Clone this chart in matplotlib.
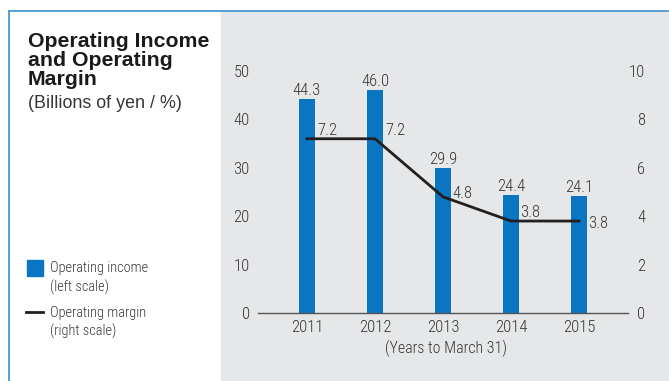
import matplotlib
matplotlib.use('Agg')
import matplotlib.pyplot as plt
from matplotlib import font_manager
from matplotlib.patches import Rectangle
from matplotlib.lines import Line2D

years = ['2011', '2012', '2013', '2014', '2015']
operating_income = [44.3, 46.0, 29.9, 24.4, 24.1]
operating_margin = [7.2, 7.2, 4.8, 3.8, 3.8]
left_ticks = [0, 10, 20, 30, 40, 50]
right_ticks = [0, 2, 4, 6, 8, 10]

W, H = 669, 381
BLUE = '#0a76c2'
TXT = '#363636'

names = sorted({f.name for f in font_manager.fontManager.ttflist})
narrow = 'Liberation Sans'
for cand in ['Roboto Condensed', 'Liberation Sans Narrow', 'DejaVu Sans Condensed']:
    if cand in names:
        narrow = cand
        break
plt.rcParams['font.family'] = ['Liberation Sans', 'DejaVu Sans']
NUM = dict(family=narrow, weight=300)


def fx(x):
    return x / W


def fy(y):
    return 1 - y / H


fig = plt.figure(figsize=(W / 100, H / 100), dpi=100)
fig.patch.set_facecolor('white')

# background panels and blue frame
fig.patches.append(Rectangle((fx(221), 0), fx(668) - fx(221), fy(12),
                             transform=fig.transFigure, color='#e6e7e8', zorder=-5))
fig.lines.append(Line2D([fx(9), fx(668)], [fy(11), fy(11)], transform=fig.transFigure,
                        color='#4a98d6', lw=1.3))
fig.lines.append(Line2D([fx(9), fx(9)], [fy(11), 0], transform=fig.transFigure,
                        color='#4a98d6', lw=1.3))

ax = fig.add_axes([fx(258), fy(313), fx(628) - fx(258), fy(71) - fy(313)])
ax.set_facecolor('none')
x = list(range(len(years)))
ax.bar(x, operating_income, width=0.235, color=BLUE, zorder=2)
ax.set_xlim(-0.72, 4.72)
ax.set_ylim(0, 50)
ax.set_yticks(left_ticks)
ax.set_xticks(x)
ax.set_xticklabels(years)
for s in ['top', 'right', 'left']:
    ax.spines[s].set_visible(False)
ax.spines['bottom'].set_color('#555555')
ax.spines['bottom'].set_linewidth(1.0)
ax.tick_params(axis='both', length=0, colors=TXT, labelsize=12)
ax.tick_params(axis='y', pad=6)
ax.tick_params(axis='x', pad=5)
for lab in ax.get_xticklabels() + ax.get_yticklabels():
    lab.set_family(narrow)
    lab.set_fontweight(300)

for xi, v in zip(x, operating_income):
    ax.annotate(f'{v:.1f}', (xi, v), xytext=(0, 4), textcoords='offset pixels',
                ha='center', va='baseline', fontsize=12, color=TXT, **NUM)

ax2 = ax.twinx()
ax2.set_ylim(0, 10)
ax2.set_yticks(right_ticks)
for s in ['top', 'right', 'left', 'bottom']:
    ax2.spines[s].set_visible(False)
ax2.tick_params(axis='y', length=0, colors=TXT, labelsize=12, pad=12.5)
for lab in ax2.get_yticklabels():
    lab.set_family(narrow)
    lab.set_fontweight(300)
    lab.set_horizontalalignment('right')
ax2.plot(x, operating_margin, color='#231f20', lw=2.0, zorder=3)

label_offsets = [(10, 10), (10, 10), (9, 5), (9, 10), (9, -1)]
for xi, v, (dx, dy) in zip(x, operating_margin, label_offsets):
    ax2.annotate(f'{v:.1f}', (xi, v), xytext=(dx, dy), textcoords='offset pixels',
                 ha='left', va='center_baseline', fontsize=12, color=TXT, **NUM)

fig.text(fx(446), fy(353), '(Years to March 31)', ha='center', va='baseline',
         fontsize=11.4, color=TXT, **NUM)

# title block
for txt, yb in [('Operating Income', 47), ('and Operating', 66), ('Margin', 85)]:
    fig.text(fx(28), fy(yb), txt, fontsize=15.3, fontweight='bold', color='#1a1a1a',
             ha='left', va='baseline')
fig.text(fx(28), fy(108), '(Billions of yen / %)', fontsize=12.9, color=TXT,
         ha='left', va='baseline')

# legend
fig.patches.append(Rectangle((fx(27), fy(276)), fx(16), fy(260) - fy(276),
                             transform=fig.transFigure, color=BLUE))
fig.lines.append(Line2D([fx(26), fx(43)], [fy(312), fy(312)], transform=fig.transFigure,
                        color='#231f20', lw=2.0))
for txt, yc in [('Operating income', 268), ('(left scale)', 287),
                ('Operating margin', 313), ('(right scale)', 331)]:
    fig.text(fx(50), fy(yc), txt, fontsize=10.4, color=TXT, ha='left', va='center', **NUM)

fig.savefig('out.png', dpi=100)
